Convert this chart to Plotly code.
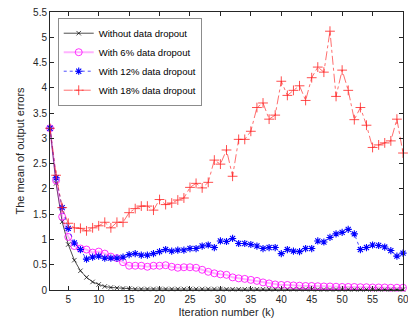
import plotly.graph_objects as go

iters = list(range(2, 61))

no_dropout = [3.2, 2.11, 1.35, 0.90, 0.59, 0.38, 0.25, 0.16, 0.11, 0.07, 0.05, 0.04, 0.03, 0.025] \
    + [0.02] * 15 + [0.015] * 15 + [0.01] * 15

dropout6 = [3.2, 2.17, 1.45, 1.05, 0.87, 0.82, 0.80, 0.74, 0.76, 0.72, 0.66, 0.63, 0.55, 0.48,
            0.48, 0.48, 0.46, 0.48, 0.48, 0.49, 0.46, 0.44, 0.45, 0.45, 0.44, 0.40, 0.36, 0.33,
            0.31, 0.30, 0.25, 0.23, 0.22, 0.20, 0.18, 0.15, 0.13, 0.11, 0.10, 0.10, 0.09, 0.085,
            0.08, 0.08, 0.075, 0.07, 0.07, 0.065, 0.06, 0.06, 0.06, 0.055, 0.055, 0.05, 0.05,
            0.05, 0.045, 0.045, 0.045]

dropout12 = [3.2, 2.22, 1.63, 1.22, 0.93, 0.80, 0.61, 0.65, 0.67, 0.63, 0.63, 0.63, 0.65, 0.70,
             0.72, 0.69, 0.69, 0.72, 0.76, 0.80, 0.77, 0.79, 0.79, 0.82, 0.82, 0.87, 0.89, 0.84,
             0.97, 0.96, 1.02, 0.92, 0.92, 0.90, 0.87, 0.82, 0.84, 0.84, 0.72, 0.80, 0.77, 0.76,
             0.82, 0.82, 0.97, 0.95, 1.04, 1.11, 1.14, 1.20, 1.11, 0.80, 0.84, 0.89, 0.88, 0.85,
             0.78, 0.67, 0.73]

dropout18 = [3.2, 2.27, 1.63, 1.32, 1.23, 1.22, 1.17, 1.23, 1.27, 1.34, 1.23, 1.34, 1.34, 1.53,
             1.61, 1.66, 1.66, 1.58, 1.79, 1.69, 1.72, 1.78, 1.82, 2.03, 2.11, 2.02, 2.13, 2.57,
             2.49, 2.77, 2.25, 2.98, 2.98, 3.14, 3.61, 3.70, 3.38, 3.46, 4.13, 3.85, 3.95, 4.04,
             3.75, 4.20, 4.41, 4.31, 5.12, 3.83, 4.35, 3.95, 3.37, 3.61, 3.26, 2.82, 2.87, 2.91,
             2.95, 3.38, 2.71]

names = ["Without data dropout", "With 6% data dropout", "With 12% data dropout", "With 18% data dropout"]
x_ticks = list(range(5, 61, 5))
x_labels = [str(v) for v in x_ticks]
y_ticks = [i * 0.5 for i in range(12)]
y_labels = ["0", "0.5", "1", "1.5", "2", "2.5", "3", "3.5", "4", "4.5", "5", "5.5"]

fig = go.Figure()
fig.add_trace(go.Scatter(x=iters, y=no_dropout, name=names[0], mode="lines+markers",
                         line=dict(color="#000000", width=0.7),
                         marker=dict(symbol="x-thin-open", size=4.5, line=dict(color="#000000", width=0.7)),
                         cliponaxis=False))
fig.add_trace(go.Scatter(x=iters, y=dropout6, name=names[1], mode="lines+markers",
                         line=dict(color="rgba(255,0,255,0.3)", width=2),
                         marker=dict(symbol="circle-open", size=7, color="#ff00ff",
                                     line=dict(color="#ff00ff", width=0.8)),
                         cliponaxis=False))
fig.add_trace(go.Scatter(x=iters, y=dropout12, name=names[2], mode="lines+markers",
                         line=dict(color="#0000ff", width=0.7, dash="dot"),
                         marker=dict(symbol="asterisk-open", size=6, color="#0000ff",
                                     line=dict(color="#2020ff", width=1.1)),
                         cliponaxis=False))
fig.add_trace(go.Scatter(x=iters, y=dropout18, name=names[3], mode="lines+markers",
                         line=dict(color="#ff3030", width=0.7, dash="dashdot"),
                         marker=dict(symbol="cross-thin-open", size=7, color="#ff2020",
                                     line=dict(color="#ff2020", width=0.8)),
                         cliponaxis=False))

axis_common = dict(showline=True, linecolor="#262626", linewidth=1, mirror="ticks",
                   ticks="inside", ticklen=4, tickcolor="#262626", showgrid=False,
                   zeroline=False, tickfont=dict(size=10, color="#262626"),
                   ticklabeloverflow="allow")

fig.update_layout(
    width=408, height=328,
    margin=dict(l=50, r=5, t=12, b=38),
    paper_bgcolor="white", plot_bgcolor="white",
    font=dict(family="Liberation Sans, Arial, sans-serif", color="#262626"),
    xaxis=dict(range=[2, 60], tickvals=x_ticks, ticktext=x_labels, automargin=False,
               title=dict(text="Iteration number (k)", font=dict(size=11), standoff=4),
               **axis_common),
    yaxis=dict(range=[0, 5.5], tickvals=y_ticks, ticktext=y_labels,
               title=dict(text="The mean of output errors", font=dict(size=11), standoff=6),
               **axis_common),
    legend=dict(x=0.023, y=0.978, xanchor="left", yanchor="top",
                bgcolor="white", bordercolor="#404040", borderwidth=0.6,
                font=dict(size=9.5, color="#000000"), tracegroupgap=0,
                itemwidth=30),
    showlegend=True,
)

fig.write_html("out.html")
